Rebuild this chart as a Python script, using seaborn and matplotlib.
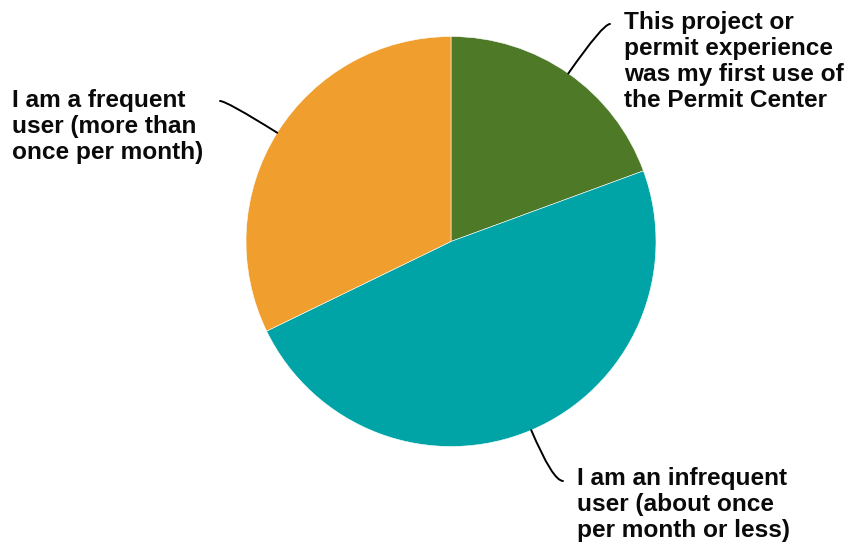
import numpy as np
import matplotlib
matplotlib.use("Agg")
import matplotlib.pyplot as plt
import seaborn as sns

# Survey: how often respondents use the Permit Center (share of responses, %)
categories = [
    "This project or\npermit experience\nwas my first use of\nthe Permit Center",
    "I am an infrequent\nuser (about once\nper month or less)",
    "I am a frequent\nuser (more than\nonce per month)",
]
shares = [19.4, 48.4, 32.2]
colors = ["#4E7A28", "#00A3A6", "#F09F2F"]

sns.set_theme(style="white")
plt.rcParams["font.family"] = ["Liberation Sans", "DejaVu Sans"]

W, H = 856, 546
fig = plt.figure(figsize=(W / 100, H / 100), dpi=100)
ax = fig.add_axes([0, 0, 1, 1])

cx, cy, r = 451, H - 241.5, 205
wedges, _ = ax.pie(shares, colors=colors, startangle=90, counterclock=False,
                   center=(cx, cy), radius=r,
                   wedgeprops=dict(linewidth=0.4, edgecolor="white"))
ax.set_xlim(0, W)
ax.set_ylim(0, H)
ax.set_aspect("auto")
ax.axis("off")

# label text anchor (left x, top y in pixel rows) and leader-line end point
label_pos = [(624, 11), (577, 467), (12, 89)]
leader_end = [(610, 24), (563, 481), (220, 101)]

for w, text, (tx, ty), (lx, ly) in zip(wedges, categories, label_pos, leader_end):
    mid = np.deg2rad((w.theta1 + w.theta2) / 2)
    ex, ey = cx + r * np.cos(mid), cy + r * np.sin(mid)
    angB = np.rad2deg(mid)
    ax.annotate("", xy=(ex, ey), xytext=(lx, H - ly),
                arrowprops=dict(arrowstyle="-", color="black", lw=1.4,
                                shrinkA=0, shrinkB=0,
                                connectionstyle=f"angle3,angleA=0,angleB={angB}"))
    ax.text(tx, H - ty, text, ha="left", va="top", fontsize=17.6,
            fontweight="bold", color="#0a0a0a", linespacing=1.17)

fig.savefig("out.png", dpi=100)
